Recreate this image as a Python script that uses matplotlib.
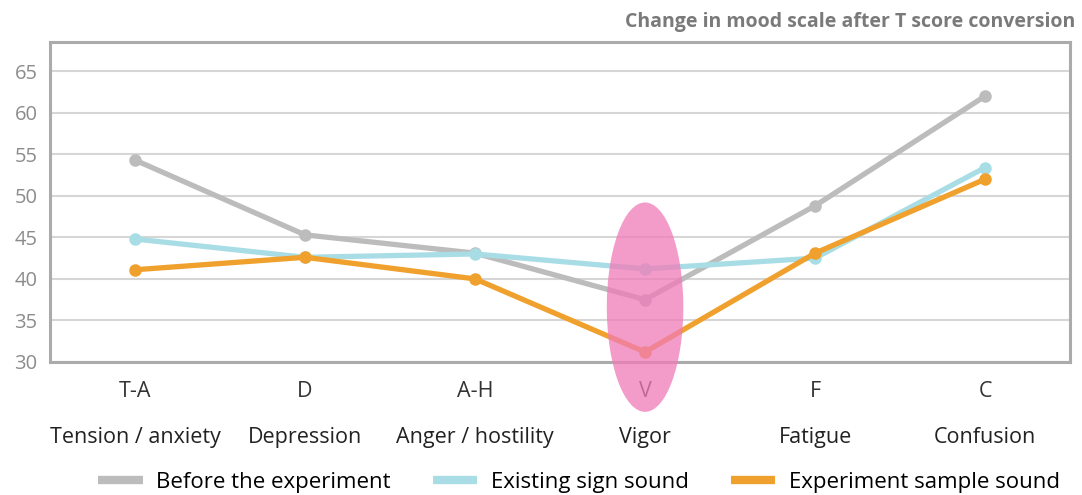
import matplotlib.pyplot as plt
from matplotlib.patches import Ellipse
from matplotlib.lines import Line2D
import matplotlib.transforms as mtransforms

# data
abbrevs = ['T-A', 'D', 'A-H', 'V', 'F', 'C']
names = ['Tension / anxiety', 'Depression', 'Anger / hostility', 'Vigor', 'Fatigue', 'Confusion']
before = [54.3, 45.3, 43.1, 37.5, 48.8, 62.0]
existing = [44.8, 42.6, 43.0, 41.2, 42.5, 53.4]
experiment = [41.1, 42.6, 40.0, 31.2, 43.1, 52.0]
series_names = ['Before the experiment', 'Existing sign sound', 'Experiment sample sound']
yticks = [30, 35, 40, 45, 50, 55, 60, 65]

colors = ['#bcbcbc', '#a9dde6', '#f0a02c']
plt.rcParams['font.family'] = ['Open Sans', 'DejaVu Sans']

fig = plt.figure(figsize=(10.82, 4.95), dpi=100)
ax = fig.add_axes([0.0462, 0.2687, 0.9428, 0.6463])

x = list(range(len(abbrevs)))
for vals, c in zip([before, existing, experiment], colors):
    ax.plot(x, vals, color=c, lw=3.8, marker='o', ms=8, zorder=3,
            solid_capstyle='round')

# highlight on Vigor
ell = Ellipse((3, 36.6), 0.45, 25.2, facecolor='#f07ab8', edgecolor='none',
              alpha=0.75, zorder=5, clip_on=False)
ax.add_patch(ell)

ax.set_xlim(-0.5, 5.5)
ax.set_ylim(30, 68.5)
ax.set_yticks(yticks)
ax.yaxis.grid(True, color='#d6d6d6', lw=1.5)
ax.set_axisbelow(True)
for s in ax.spines.values():
    s.set_color('#ababab')
    s.set_linewidth(2.2)
ax.tick_params(axis='y', length=0, labelsize=14.5, labelcolor='#8c8c8c', pad=9)
ax.set_xticks(x)
ax.set_xticklabels(abbrevs)
ax.tick_params(axis='x', length=0, labelsize=15.5, labelcolor='#333333', pad=14)

trans = mtransforms.blended_transform_factory(ax.transData, fig.transFigure)
for i, n in enumerate(names):
    ax.text(i, 1 - 443 / 495, n, transform=trans, ha='center', va='baseline',
            fontsize=15.5, color='#222222')

fig.text(0.994, 1 - 22 / 495, 'Change in mood scale after T score conversion',
         ha='right', va='center', fontsize=14, fontweight='bold', color='#7a7a7a')

handles = [Line2D([], [], color=c, lw=6, solid_capstyle='butt') for c in colors]
fig.legend(handles, series_names, loc='lower center', bbox_to_anchor=(0.535, -0.036),
           ncol=3, frameon=False, fontsize=16, handlelength=2.0, columnspacing=1.9,
           handletextpad=0.6)

plt.savefig('out.png', dpi=100)
